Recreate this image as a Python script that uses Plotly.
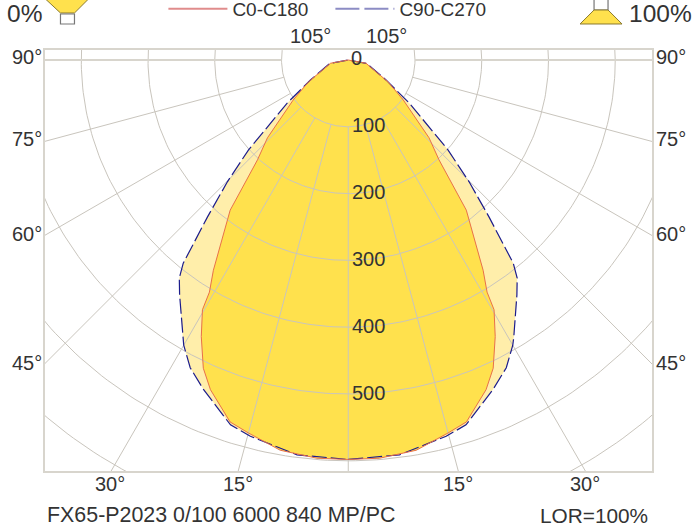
import numpy as np
import plotly.graph_objects as go

W, H = 697, 532
L, R, T, B = 44.5, 652.0, 50.0, 471.0
CX, CY = 348.0, 60.0
SCALE = 0.668  # px per cd

c0_angles = [0, 4.5, 9.9, 15, 18.1, 22.7, 25.2, 28, 30.3, 30.9, 32.7, 37.1, 38.2, 42.3, 46.1, 54, 61.2, 79.6, 90]
c0_values = [598, 598, 593, 578, 570, 535, 510, 469, 433, 405, 374, 300, 286, 202, 168, 102, 68, 27, 0]
c90_angles = [0, 7.4, 14.6, 17.9, 23.7, 27.2, 30, 30.9, 35.7, 37.8, 39.1, 41.9, 44.8, 48, 54.8, 62.2, 79.6, 90]
c90_values = [598, 596, 582, 574, 539, 518, 493, 483, 433, 413, 392, 316, 257, 201, 112, 64, 28, 0]

radial_ticks = [100, 200, 300, 400, 500, 600, 700]
radial_labels = ["100", "200", "300", "400", "500"]
spoke_angles = [0, 15, 30, 45, 60, 75]
GRID = "#c9c5bd"
FRAME = "#d8d5cd"
TEXT = "#333333"
FONT = "Liberation Sans, Arial, sans-serif"


def outline(angles, values):
    a = np.radians(angles)
    v = np.array(values, float)
    # right half then mirrored left half
    x = np.r_[v * np.sin(a), -(v * np.sin(a))[::-1]]
    y = np.r_[-v * np.cos(a), (-v * np.cos(a))[::-1]]
    return x, y


fig = go.Figure()
x90, y90 = outline(c90_angles, c90_values)
x0, y0 = outline(c0_angles, c0_values)

fig.add_trace(go.Scatter(x=x90, y=y90, mode="none", fill="toself", fillcolor="#ffeeaa", showlegend=False, hoverinfo="skip"))
fig.add_trace(go.Scatter(x=x0, y=y0, mode="none", fill="toself", fillcolor="#ffe14d", showlegend=False, hoverinfo="skip"))

# grid
gx, gy = [], []
t = np.radians(np.linspace(0, 360, 361))
for r in radial_ticks:
    gx += list(r * np.cos(t)) + [None]
    gy += list(r * np.sin(t)) + [None]
for ang in spoke_angles:
    a = np.radians(ang)
    for s in ([1, -1] if ang else [1]):
        gx += [s * 100 * np.sin(a), s * 900 * np.sin(a), None]
        gy += [-100 * np.cos(a), -900 * np.cos(a), None]
fig.add_trace(go.Scatter(x=gx, y=gy, mode="lines", line=dict(color=GRID, width=1), showlegend=False, hoverinfo="skip"))
fig.add_trace(go.Scatter(x=[-900, -100, None, 100, 900], y=[0, 0, None, 0, 0], mode="lines",
                         line=dict(color=FRAME, width=2), showlegend=False, hoverinfo="skip"))

fig.add_trace(go.Scatter(x=x90, y=y90, mode="lines", line=dict(color="#1c1c8c", width=1.2, dash="15px,4px"),
                         showlegend=False, hoverinfo="skip"))
fig.add_trace(go.Scatter(x=x0, y=y0, mode="lines", line=dict(color="#e8704a", width=1),
                         showlegend=False, hoverinfo="skip"))

# legend keys
fig.add_trace(go.Scatter(x=[None], y=[None], mode="lines", name="C0-C180", line=dict(color="#e08c8c", width=2)))
fig.add_trace(go.Scatter(x=[None], y=[None], mode="lines", name="C90-C270", line=dict(color="#8c8cc4", width=2, dash="24px,5px")))


def px(x):
    return (x - L) / (R - L)


def py(y):
    return (B - y) / (B - T)


annotations = []


def label(x, y, s, size=20, anchor="center"):
    annotations.append(dict(x=px(x), y=py(y), xref="paper", yref="paper", text=s, showarrow=False,
                            xanchor=anchor, yanchor="middle", font=dict(size=size, color=TEXT, family=FONT),
                            borderpad=0, borderwidth=0))


for s, y in [("90°", 57), ("75°", 139), ("60°", 234), ("45°", 363)]:
    label(41, y, s, anchor="right")
    label(656, y, s, anchor="left")
for s, x in [("30°", 110), ("15°", 238), ("15°", 458), ("30°", 585)]:
    label(x, 484, s)
label(310, 36, "105°")
label(386, 36, "105°")
label(47, 515, "FX65-P2023 0/100 6000 840 MP/PC", size=21.4, anchor="left")
label(648, 515, "LOR=100%", size=20.8, anchor="right")
label(6, 14, "0%", size=24.5, anchor="left")
label(692, 14, "100%", size=24.5, anchor="right")

label(351, 58, "0", size=20, anchor="left")
for s, r in zip(radial_labels, radial_ticks):
    annotations.append(dict(x=2.5, y=-int(s) + 2, xref="x", yref="y", text=s, showarrow=False, xanchor="left",
                            yanchor="middle", font=dict(size=20, color=TEXT, family=FONT)))


def path(points):
    return "M" + "L".join(f"{px(x):.5f},{py(y):.5f}" for x, y in points) + "Z"


shapes = [
    dict(type="path", xref="paper", yref="paper", path=path([(45, -1), (88, -1), (74, 13), (60, 13)]),
         fillcolor="#ffe14d", line=dict(color="#8a7a30", width=1)),
    dict(type="path", xref="paper", yref="paper", path=path([(60, 14), (74, 14), (74, 24), (60, 24)]),
         fillcolor="#ffffff", line=dict(color="#777777", width=1.2)),
    dict(type="path", xref="paper", yref="paper", path=path([(594, -1), (608, -1), (608, 10), (594, 10)]),
         fillcolor="#ffffff", line=dict(color="#777777", width=1.2)),
    dict(type="path", xref="paper", yref="paper", path=path([(594, 10), (608, 10), (622, 24), (580, 24)]),
         fillcolor="#ffe14d", line=dict(color="#8a7a30", width=1)),
]

axis = dict(showgrid=False, zeroline=False, showticklabels=False, ticks="", showline=True, mirror=True,
            linecolor=FRAME, linewidth=2, fixedrange=True)
fig.update_layout(
    width=W, height=H, margin=dict(l=L, r=W - R, t=T, b=H - B, autoexpand=False), autosize=False,
    paper_bgcolor="white", plot_bgcolor="white", font=dict(family=FONT, color=TEXT, size=16),
    xaxis=dict(axis, range=[(L - CX) / SCALE, (R - CX) / SCALE]),
    yaxis=dict(axis, range=[(CY - B) / SCALE, (CY - T) / SCALE]),
    legend=dict(orientation="h", x=px(163), y=py(-10), xanchor="left", yanchor="top", itemwidth=59,
                entrywidth=93, entrywidthmode="pixels", bgcolor="rgba(0,0,0,0)", font=dict(size=19, color=TEXT, family=FONT),
                tracegroupgap=0),
    annotations=annotations, shapes=shapes,
)
fig.write_html("out.html", config=dict(displayModeBar=False), post_script="document.body.style.margin='0';")
